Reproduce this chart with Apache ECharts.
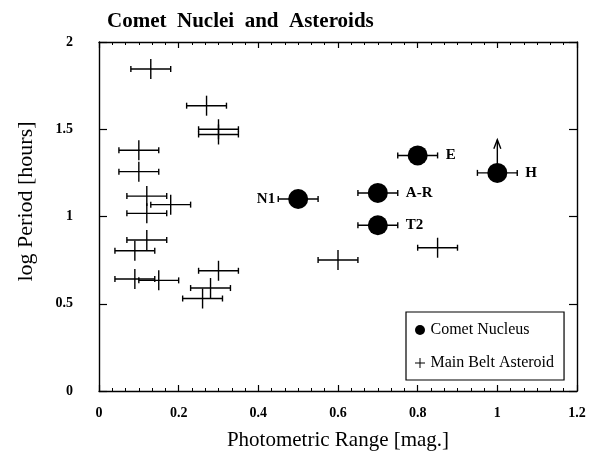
<!DOCTYPE html>
<html><head><meta charset="utf-8">
<script src="https://cdn.jsdelivr.net/npm/echarts@6/dist/echarts.min.js"></script>
<style>html,body{margin:0;padding:0;background:#fff}#c{width:596px;height:456px}</style>
</head><body><div id="c"></div>
<script>
// ---- data ----
const cometNames = ['N1', 'E', 'H', 'A-R', 'T2'];
const cometX = [0.50, 0.80, 1.00, 0.70, 0.70];
const cometY = [1.10, 1.35, 1.25, 1.135, 0.95];
const cometErr = [0.05, 0.05, 0.05, 0.05, 0.05];
const cometLabelSide = ['left', 'right', 'right', 'right', 'right'];
// lower-limit arrow for comet H: from, to (log period)
const arrowX = [1.00];
const arrowFrom = [1.25];
const arrowTo = [1.44];

const astX = [0.13, 0.27, 0.30, 0.30, 0.10, 0.10, 0.12, 0.18, 0.12, 0.12, 0.09, 0.09, 0.15, 0.30, 0.28, 0.26, 0.60, 0.85];
const astY = [1.845, 1.635, 1.50, 1.47, 1.38, 1.257, 1.117, 1.068, 1.018, 0.865, 0.804, 0.642, 0.634, 0.689, 0.59, 0.53, 0.751, 0.821];
const astErr = [0.05, 0.05, 0.05, 0.05, 0.05, 0.05, 0.05, 0.05, 0.05, 0.05, 0.05, 0.05, 0.05, 0.05, 0.05, 0.05, 0.05, 0.05];

const xTicks = [0, 0.2, 0.4, 0.6, 0.8, 1, 1.2];
const yTicks = [0, 0.5, 1, 1.5, 2];

// ---- chart ----
const FONT = '"Liberation Serif", "DejaVu Serif", serif';
const chart = echarts.init(document.getElementById('c'), null, {renderer: 'canvas'});

function errBarItem(params, api, withPlus) {
  const x = api.value(0), y = api.value(1), e = api.value(2);
  const c = api.coord([x, y]);
  const l = api.coord([x - e, y]);
  const r = api.coord([x + e, y]);
  const st = {stroke: '#000', lineWidth: 1.4};
  const ch = [
    {type: 'line', shape: {x1: l[0], y1: c[1], x2: r[0], y2: c[1]}, style: st},
    {type: 'line', shape: {x1: l[0], y1: c[1] - 3, x2: l[0], y2: c[1] + 3}, style: st},
    {type: 'line', shape: {x1: r[0], y1: c[1] - 3, x2: r[0], y2: c[1] + 3}, style: st}
  ];
  if (withPlus) ch.push({type: 'line', shape: {x1: c[0], y1: c[1] - 10, x2: c[0], y2: c[1] + 10}, style: st});
  return {type: 'group', children: ch};
}

const axisCommon = {
  min: 0,
  axisLine: {show: true, onZero: false, lineStyle: {color: '#000', width: 1.4}},
  splitLine: {show: false}
};
const tickFmt = ticks => v => ticks.find(t => Math.abs(t - v) < 1e-9) !== undefined ? String(+v.toFixed(1)) : '';

chart.setOption({
  animation: false,
  backgroundColor: '#fff',
  title: {
    text: 'Comet  Nuclei  and  Asteroids',
    left: 102, top: 6,
    textStyle: {fontFamily: FONT, fontWeight: 'bold', fontSize: 21, color: '#000'}
  },
  grid: {left: 99, right: 19, top: 42, bottom: 65},
  legend: {
    orient: 'vertical',
    left: 406, top: 312,
    padding: [10, 10, 9, 9],
    itemGap: 17,
    itemWidth: 11, itemHeight: 10,
    borderColor: '#000', borderWidth: 1.2,
    textStyle: {fontFamily: FONT, fontSize: 16, color: '#000'},
    data: [
      {name: 'Comet Nucleus', icon: 'circle', itemStyle: {color: '#000'}},
      {name: 'Main Belt Asteroid', icon: 'path://M5.4,0 L6.6,0 L6.6,5.4 L12,5.4 L12,6.6 L6.6,6.6 L6.6,12 L5.4,12 L5.4,6.6 L0,6.6 L0,5.4 L5.4,5.4 Z', itemStyle: {color: '#000'}}
    ]
  },
  xAxis: [
    Object.assign({}, axisCommon, {
      type: 'value', position: 'bottom', max: 1.2, interval: 0.2,
      name: 'Photometric Range [mag.]', nameLocation: 'middle', nameGap: 39,
      nameTextStyle: {fontFamily: FONT, fontSize: 21, color: '#000'},
      axisTick: {show: true, inside: true, length: 6, lineStyle: {color: '#000', width: 1.2}},
      minorTick: {show: true, splitNumber: 6, length: 3, lineStyle: {color: '#000', width: 1}},
      axisLabel: {fontFamily: FONT, fontSize: 14, fontWeight: 'bold', color: '#000', margin: 15, formatter: tickFmt(xTicks)}
    }),
    Object.assign({}, axisCommon, {
      type: 'value', position: 'top', max: 1.2, interval: 0.2,
      axisTick: {show: true, inside: true, length: 6, lineStyle: {color: '#000', width: 1.2}},
      minorTick: {show: true, splitNumber: 6, length: 3, lineStyle: {color: '#000', width: 1}},
      axisLabel: {show: false}
    })
  ],
  yAxis: [
    Object.assign({}, axisCommon, {
      type: 'value', position: 'left', max: 2, interval: 0.5,
      name: 'log Period [hours]', nameLocation: 'middle', nameGap: 62, nameRotate: 90,
      nameTextStyle: {fontFamily: FONT, fontSize: 22, color: '#000', padding: [0, 0, 0, 30]},
      axisTick: {show: true, inside: true, length: 8, lineStyle: {color: '#000', width: 1.2}},
      axisLabel: {fontFamily: FONT, fontSize: 14, fontWeight: 'bold', color: '#000', margin: 26, formatter: tickFmt(yTicks)}
    }),
    Object.assign({}, axisCommon, {
      type: 'value', position: 'right', max: 2, interval: 0.5,
      axisTick: {show: true, inside: true, length: 8, lineStyle: {color: '#000', width: 1.2}},
      axisLabel: {show: false}
    })
  ],
  series: [
    {
      name: 'Main Belt Asteroid',
      type: 'custom',
      itemStyle: {color: '#000'},
      renderItem: (p, api) => errBarItem(p, api, true),
      data: astX.map((x, i) => [x, astY[i], astErr[i]]),
      z: 2
    },
    {
      name: 'cometErr',
      type: 'custom',
      renderItem: (p, api) => errBarItem(p, api, false),
      data: cometX.map((x, i) => [x, cometY[i], cometErr[i]]),
      z: 2
    },
    {
      name: 'arrow',
      type: 'custom',
      renderItem: (p, api) => {
        const a = api.coord([api.value(0), api.value(1)]);
        const b = api.coord([api.value(0), api.value(2)]);
        const st = {stroke: '#000', lineWidth: 1.4, fill: null};
        return {type: 'group', children: [
          {type: 'line', shape: {x1: a[0], y1: a[1], x2: b[0], y2: b[1]}, style: st},
          {type: 'polyline', shape: {points: [[b[0] - 3.5, b[1] + 9], [b[0], b[1]], [b[0] + 3.5, b[1] + 9]]}, style: st}
        ]};
      },
      data: arrowX.map((x, i) => [x, arrowFrom[i], arrowTo[i]]),
      z: 2
    },
    {
      name: 'Comet Nucleus',
      type: 'scatter',
      symbol: 'circle',
      symbolSize: 20,
      itemStyle: {color: '#000', opacity: 1},
      z: 3,
      data: cometX.map((x, i) => ({
        value: [x, cometY[i]],
        label: {
          show: true, formatter: cometNames[i],
          position: cometLabelSide[i],
          distance: cometLabelSide[i] === 'left' ? 13 : 18,
          fontFamily: FONT, fontSize: 15, fontWeight: 'bold', color: '#000'
        }
      }))
    }
  ]
});
</script></body></html>
